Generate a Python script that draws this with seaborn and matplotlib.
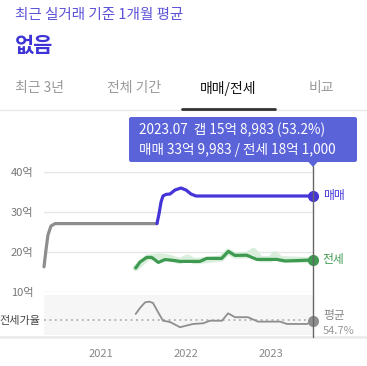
import numpy as np
import pandas as pd
import matplotlib
matplotlib.use('Agg')
import matplotlib.pyplot as plt
import matplotlib.patches as patches
from matplotlib.lines import Line2D
import seaborn as sns

# 매매 (sale price, 억) - gray before 2021.66, purple after
sale_years = [2020.328, 2020.351, 2020.375, 2020.410, 2020.458, 2021.660, 2021.684, 2021.708,
              2021.731, 2021.767, 2021.814, 2021.873, 2021.943, 2022.002, 2022.061, 2022.120, 2023.500]
sale_vals = [16.3, 20.5, 24.3, 26.5, 27.1, 27.1, 29.5, 32.5,
             34.0, 34.4, 34.5, 35.5, 36.0, 35.5, 34.5, 34.0, 34.0]
split_year = 2021.66

# 전세 (jeonse, 억)
jeonse_years = [2021.409, 2021.460, 2021.539, 2021.598, 2021.676, 2021.755, 2021.853, 2021.932,
                2022.167, 2022.246, 2022.423, 2022.501, 2022.580, 2022.718, 2022.836, 2023.072,
                2023.170, 2023.500]
jeonse_vals = [16.0, 17.5, 18.65, 18.65, 17.4, 18.1, 17.9, 17.65,
               17.65, 18.4, 18.4, 20.15, 19.15, 19.2, 18.15, 18.15,
               17.75, 18.0]

# raw jeonse trades (light shade)
raw_years = [2021.41, 2021.55, 2021.68, 2021.80, 2021.93, 2022.02, 2022.10, 2022.42, 2022.50,
             2022.58, 2022.72, 2022.80, 2022.88, 2023.00, 2023.05, 2023.12, 2023.50]
raw_vals = [16.0, 18.6, 18.9, 18.6, 17.7, 18.6, 17.7, 18.4, 20.1,
            19.1, 19.2, 20.3, 18.2, 18.2, 19.4, 18.2, 17.9]

# 전세가율 (%)
ratio_years = [2021.409, 2021.460, 2021.519, 2021.566, 2021.613, 2021.672, 2021.731, 2021.814,
               2021.932, 2022.085, 2022.203, 2022.285, 2022.427, 2022.498, 2022.580, 2022.733,
               2022.851, 2023.111, 2023.193, 2023.429, 2023.500]
ratio_vals = [59.0, 63.6, 67.9, 68.5, 67.5, 60.5, 53.8, 52.8,
              48.8, 51.3, 51.8, 53.8, 53.8, 59.5, 56.5, 56.5,
              53.1, 53.1, 51.3, 51.3, 53.2]
ratio_avg = 54.7

yticks = [10, 20, 30, 40]
ytick_labels = ['10억', '20억', '30억', '40억']
xticks = [2021, 2022, 2023]
xtick_labels = ['2021', '2022', '2023']

PURPLE = '#4535d8'
GREEN = '#3e9a50'
GRAY = '#8e8e8e'

sns.set_theme(style='white')
plt.rcParams['font.family'] = ['Noto Sans CJK KR', 'DejaVu Sans']

W, H = 367, 366
fig = plt.figure(figsize=(W / 100, H / 100), dpi=100)
fig.patch.set_facecolor('white')

def fx(px):
    return px / W

def fy(py):
    return 1 - py / H

x0, x1 = 43.5, 313
ax = fig.add_axes([fx(x0), fy(292), fx(x1 - x0), fy(172) - fy(292)])
ax2 = fig.add_axes([fx(x0), fy(335), fx(x1 - x0), fy(295) - fy(335)])

sale = pd.DataFrame({'year': sale_years, 'val': sale_vals})
before = sale[sale.year <= split_year]
after = sale[sale.year >= split_year]
jeonse = pd.DataFrame({'year': jeonse_years, 'val': jeonse_vals})
raw = pd.DataFrame({'year': raw_years, 'val': raw_vals})
ratio = pd.DataFrame({'year': ratio_years, 'val': ratio_vals})

for a in (ax, ax2):
    for s in a.spines.values():
        s.set_visible(False)
    a.set_xlim(2020.322, 2023.5)

# main chart
ax.set_ylim(10, 40)
ax.set_yticks(yticks)
ax.set_yticklabels(ytick_labels)
ax.grid(axis='y', color='#e6e6e6', lw=1)
ax.grid(axis='x', visible=False)
ax.set_xticks([])
ax.tick_params(axis='y', length=0, pad=7.5, labelsize=8, labelcolor='#777777')

sns.lineplot(data=raw, x='year', y='val', ax=ax, color='#d8eedb', lw=4.5, sort=False,
             estimator=None, solid_capstyle='round', clip_on=False)
sns.lineplot(data=before, x='year', y='val', ax=ax, color=GRAY, lw=2.3, sort=False,
             estimator=None, solid_joinstyle='round', clip_on=False)
sns.lineplot(data=after, x='year', y='val', ax=ax, color=PURPLE, lw=2.3, sort=False,
             estimator=None, solid_joinstyle='round', clip_on=False)
sns.lineplot(data=jeonse, x='year', y='val', ax=ax, color=GREEN, lw=2.3, sort=False,
             estimator=None, solid_joinstyle='round', clip_on=False)
ax.plot(sale_years[-1], sale_vals[-1], 'o', color=PURPLE, ms=7, clip_on=False, zorder=5)
ax.plot(jeonse_years[-1], jeonse_vals[-1], 'o', color=GREEN, ms=7, clip_on=False, zorder=5)
ax.annotate('매매', xy=(sale_years[-1], sale_vals[-1]), xytext=(7, 0), textcoords='offset points',
            va='center', ha='left', fontsize=8.5, color=PURPLE, annotation_clip=False)
ax.annotate('전세', xy=(jeonse_years[-1], jeonse_vals[-1]), xytext=(7, 0), textcoords='offset points',
            va='center', ha='left', fontsize=8.5, color=GREEN, annotation_clip=False)
ax.set_xlabel('')
ax.set_ylabel('')

# ratio panel
ax2.set_facecolor('#f6f6f6')
ax2.set_ylim(42.8, 73.6)
ax2.axhline(ratio_avg, color='#b0b0b0', lw=1.3, ls=(0, (1, 2)))
sns.lineplot(data=ratio, x='year', y='val', ax=ax2, color=GRAY, lw=1.3, sort=False,
             estimator=None, clip_on=False)
ax2.plot(ratio_years[-1], ratio_vals[-1], 'o', color=GRAY, ms=7, clip_on=False, zorder=5)
ax2.set_yticks([ratio_avg])
ax2.set_yticklabels(['전세가율'])
ax2.tick_params(axis='y', length=0, pad=2.5, labelsize=8, labelcolor='#444444')
ax2.set_xticks(xticks)
ax2.set_xticklabels(xtick_labels)
ax2.tick_params(axis='x', length=0, pad=10, labelsize=8, labelcolor='#888888')
ax2.grid(False)
ax2.set_xlabel('')
ax2.set_ylabel('')

fig.text(fx(323), fy(316), '평균', fontsize=8.5, color='#888888', va='center', ha='left')
fig.text(fx(323), fy(331), f'{ratio_avg}%', fontsize=8, color='#999999', va='center', ha='left')

# baseline and crosshair
fig.add_artist(Line2D([0, 1], [fy(337), fy(337)], color='#ebebeb', lw=2))
fig.add_artist(Line2D([fx(313), fx(313)], [fy(166), fy(337)], color='#666666', lw=1))

# tooltip
TIP = '#5a63d8'
box = patches.FancyBboxPatch((fx(129), fy(162)), fx(357 - 129), fy(117) - fy(162),
                             boxstyle='round,pad=0,rounding_size=0.006',
                             transform=fig.transFigure, facecolor=TIP, edgecolor='none')
fig.add_artist(box)
tri = patches.Polygon([[fx(308), fy(161.5)], [fx(318), fy(161.5)], [fx(313), fy(167)]],
                      closed=True, transform=fig.transFigure, facecolor=TIP, edgecolor='none')
fig.add_artist(tri)
fig.text(fx(139), fy(130), '2023.07  갭 15억 8,983 (53.2%)', fontsize=9.8, color='white',
         va='center', ha='left')
fig.text(fx(139), fy(150), '매매 33억 9,983 / 전세 18억 1,000', fontsize=9.8, color='white',
         va='center', ha='left')

# header and tabs
fig.text(fx(15), fy(15), '최근 실거래 기준 1개월 평균', fontsize=10.5, color='#5b52d6', va='center', ha='left')
fig.text(fx(15), fy(45), '없음', fontsize=15, fontweight='bold', color='#3d33d6', va='center', ha='left')
fig.text(fx(15), fy(88), '최근 3년', fontsize=10, color='#999999', va='center', ha='left')
fig.text(fx(107), fy(88), '전체 기간', fontsize=10, color='#999999', va='center', ha='left')
fig.text(fx(200), fy(88), '매매/전세', fontsize=10, color='#111111', va='center', ha='left')
fig.text(fx(309), fy(88), '비교', fontsize=10, color='#999999', va='center', ha='left')
fig.add_artist(Line2D([0, 1], [fy(110), fy(110)], color='#e8e8e8', lw=1))
fig.add_artist(Line2D([fx(182), fx(275)], [fy(108.5), fy(108.5)], color='#333333', lw=2))

fig.savefig('out.png', dpi=100, facecolor='white')
